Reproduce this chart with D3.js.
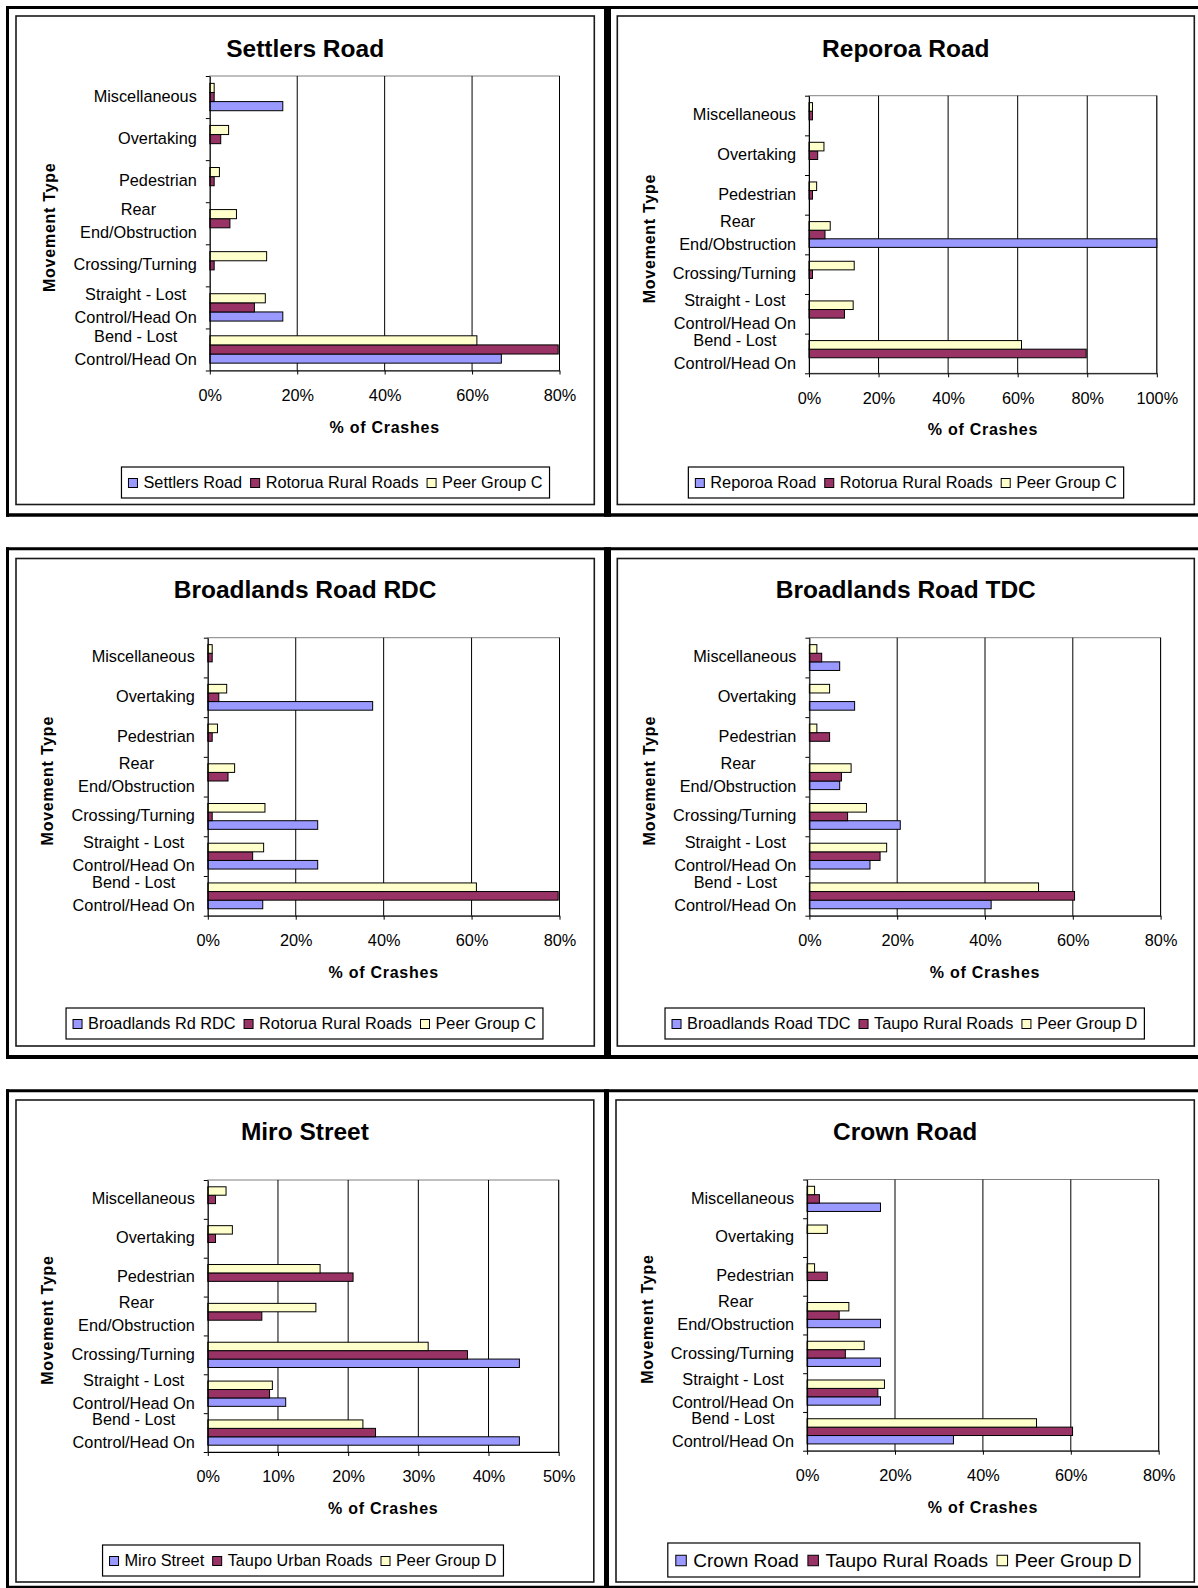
<!DOCTYPE html>
<html><head><meta charset="utf-8">
<script src="https://cdn.jsdelivr.net/npm/d3@7"></script>
<style>
body{margin:0;background:#fff}
svg{display:block;background:#fff}
text{font-family:"Liberation Sans",Arial,Helvetica,sans-serif;fill:#000}
</style>
</head><body>
<svg id="c" width="1198" height="1588"></svg>
<script>
// ---------- DATA (values in % of crashes, categories listed top to bottom) ----------
const categories = ["Miscellaneous","Overtaking","Pedestrian","Rear\nEnd/Obstruction","Crossing/Turning","Straight - Lost\nControl/Head On","Bend - Lost\nControl/Head On"];

const settlersRoad      = [16.7, 0, 0, 0, 0, 16.7, 66.7];
const reporoaRoad       = [0, 0, 0, 100, 0, 0, 0];
const broadlandsRdRDC   = [0, 37.5, 0, 0, 25.0, 25.0, 12.5];
const broadlandsRoadTDC = [6.9, 10.3, 0, 6.9, 20.7, 13.8, 41.4];
const miroStreet        = [0, 0, 0, 0, 44.4, 11.1, 44.4];
const crownRoad         = [16.7, 0, 0, 16.7, 16.7, 16.7, 33.3];

const rotoruaRuralRoads = [1.0, 2.5, 1.0, 4.6, 1.0, 10.2, 79.7];
const taupoRuralRoads   = [2.8, 0, 4.6, 7.3, 8.7, 16.1, 60.4];
const taupoUrbanRoads   = [1.1, 1.1, 20.7, 7.7, 37.0, 8.8, 23.9];

const peerGroupC        = [1.0, 4.3, 2.2, 6.1, 13.0, 12.7, 61.1];
const peerGroupDRural   = [1.7, 4.6, 1.7, 9.5, 13.0, 17.6, 52.2];
const peerGroupDUrban   = [2.6, 3.5, 16.0, 15.4, 31.4, 9.2, 22.1];

const ticks80  = [0, 20, 40, 60, 80];
const ticks100 = [0, 20, 40, 60, 80, 100];
const ticks50  = [0, 10, 20, 30, 40, 50];

const titles = ["Settlers Road","Reporoa Road","Broadlands Road RDC","Broadlands Road TDC","Miro Street","Crown Road"];
const legendSettlers   = ["Settlers Road","Rotorua Rural Roads","Peer Group C"];
const legendReporoa    = ["Reporoa Road","Rotorua Rural Roads","Peer Group C"];
const legendBroadRDC   = ["Broadlands Rd RDC","Rotorua Rural Roads","Peer Group C"];
const legendBroadTDC   = ["Broadlands Road TDC","Taupo Rural Roads","Peer Group D"];
const legendMiro       = ["Miro Street","Taupo Urban Roads","Peer Group D"];
const legendCrown      = ["Crown Road","Taupo Rural Roads","Peer Group D"];

const xTitle = "% of Crashes";
const yTitle = "Movement Type";
const colors = ["#9999FF", "#993366", "#FFFFCC"];

// ---------- LAYOUT ----------
const charts = [
  {title:titles[0], series:[settlersRoad, rotoruaRuralRoads, peerGroupC], names:legendSettlers, ticks:ticks80,
   box:[16,16,594.3,504.5], ty:48, x0:209.8, x1:559.5, top:76, bottom:370.5, lcx:335.5, ltop:467, lh:31, lfs:16.3, sw:9},
  {title:titles[1], series:[reporoaRoad, rotoruaRuralRoads, peerGroupC], names:legendReporoa, ticks:ticks100,
   box:[617.3,16,1194.3,504.5], ty:48, x0:809, x1:1156.8, top:95.7, bottom:373.3, lcx:906, ltop:467, lh:31, lfs:16.3, sw:9},
  {title:titles[2], series:[broadlandsRdRDC, rotoruaRuralRoads, peerGroupC], names:legendBroadRDC, ticks:ticks80,
   box:[16,558.5,594.3,1046], ty:589.5, x0:207.8, x1:559.5, top:637.7, bottom:915.7, lcx:304.5, ltop:1008, lh:31, lfs:16.3, sw:9},
  {title:titles[3], series:[broadlandsRoadTDC, taupoRuralRoads, peerGroupDRural], names:legendBroadTDC, ticks:ticks80,
   box:[617.3,558.5,1194.3,1046], ty:589.5, x0:809.4, x1:1160.6, top:637.7, bottom:915.7, lcx:904.7, ltop:1008, lh:31, lfs:16.3, sw:9},
  {title:titles[4], series:[miroStreet, taupoUrbanRoads, peerGroupDUrban], names:legendMiro, ticks:ticks50,
   box:[16,1100,593.8,1582], ty:1131, x0:207.8, x1:558.7, top:1180, bottom:1452, lcx:303, ltop:1545, lh:31, lfs:16.3, sw:9},
  {title:titles[5], series:[crownRoad, taupoRuralRoads, peerGroupDRural], names:legendCrown, ticks:ticks80,
   box:[616,1100,1194.3,1582], ty:1131.5, x0:807.1, x1:1158.7, top:1179.5, bottom:1450.7, lcx:903.8, ltop:1543, lh:34, lfs:19, sw:10.5}
];

const svg = d3.select("#c");
const FONT = '"Liberation Sans", Arial, Helvetica, sans-serif';

// ---------- OUTER FRAMES ----------
const frames = svg.append("g").attr("stroke", "#000").attr("fill", "none");
function hline(y, x1, x2, w){ frames.append("line").attr("x1",x1).attr("x2",x2).attr("y1",y).attr("y2",y).attr("stroke-width",w); }
function vline(x, y1, y2, w){ frames.append("line").attr("x1",x).attr("x2",x).attr("y1",y1).attr("y2",y2).attr("stroke-width",w); }
// row 1
hline(7.5, 6, 1200, 3); hline(515, 6, 1200, 3.4); vline(7.5, 6, 516.7, 3); vline(607.5, 6, 516.7, 7);
// row 2
hline(548.8, 6, 1200, 3); hline(1057, 6, 1200, 4); vline(7.5, 547.3, 1059, 3); vline(607.5, 547.3, 1059, 7);
// row 3
hline(1090.8, 6, 1200, 3); hline(1587, 6, 1200, 2.5); vline(7.5, 1089.3, 1588, 3); vline(606.5, 1089.3, 1588, 5);

// ---------- CHARTS ----------
charts.forEach(p => {
  const g = svg.append("g");
  const [bx1, by1, bx2, by2] = p.box;
  g.append("rect").attr("x", bx1).attr("y", by1).attr("width", bx2 - bx1).attr("height", by2 - by1)
    .attr("fill", "#fff").attr("stroke", "#1a1a1a").attr("stroke-width", 1.6);

  // title
  g.append("text").attr("x", (bx1 + bx2) / 2).attr("y", p.ty).attr("dy", "0.35em")
    .attr("text-anchor", "middle").style("font-weight", "bold").style("font-size", "24.5px").text(p.title);

  const xMax = p.ticks[p.ticks.length - 1];
  const x = d3.scaleLinear().domain([0, xMax]).range([p.x0, p.x1]);
  const y = d3.scaleBand().domain(categories).range([p.top, p.bottom]).paddingInner(0.35).paddingOuter(0.175);
  const sub = d3.scaleBand().domain([2, 1, 0]).range([0, y.bandwidth()]);

  // plot area border
  g.append("rect").attr("x", p.x0).attr("y", p.top).attr("width", p.x1 - p.x0).attr("height", p.bottom - p.top)
    .attr("fill", "#fff").attr("stroke", "#808080").attr("stroke-width", 1);

  // gridlines
  g.append("g").selectAll("line").data(p.ticks.filter(t => t > 0)).join("line")
    .attr("x1", d => x(d)).attr("x2", d => x(d)).attr("y1", p.top).attr("y2", p.bottom)
    .attr("stroke", "#000").attr("stroke-width", 1);

  // bars
  p.series.forEach((vals, si) => {
    g.append("g").selectAll("rect")
      .data(categories.map((c, i) => ({c, v: vals[i]})).filter(d => d.v > 0))
      .join("rect")
      .attr("x", x(0)).attr("y", d => y(d.c) + sub(si))
      .attr("width", d => x(d.v) - x(0)).attr("height", sub.bandwidth())
      .attr("fill", colors[si]).attr("stroke", "#000").attr("stroke-width", 1);
  });

  // x axis
  const xa = g.append("g").attr("transform", `translate(0,${p.bottom})`)
    .call(d3.axisBottom(x).tickValues(p.ticks).tickFormat(d => d + "%").tickSize(4).tickSizeOuter(0));
  xa.attr("font-family", FONT).attr("font-size", 16.3);
  xa.selectAll("path,line").attr("stroke", "#000");
  xa.selectAll("text").attr("y", 24.5).attr("dy", "0.35em").attr("fill", "#000");

  // y axis (ticks on category boundaries)
  const yb = d3.scaleLinear().domain([0, categories.length]).range([p.top, p.bottom]);
  const ya = g.append("g").attr("transform", `translate(${p.x0},0)`)
    .call(d3.axisLeft(yb).tickValues(d3.range(categories.length + 1)).tickFormat("").tickSize(4).tickSizeOuter(0));
  ya.selectAll("path,line").attr("stroke", "#000");

  // category labels
  const rightEdge = p.x0 - 13;
  categories.forEach(c => {
    const lines = c.split("\n");
    const cy = y(c) + y.bandwidth() / 2;
    const texts = lines.map(l => g.append("text").style("font-size", "16.3px").text(l));
    const w = d3.max(texts, t => t.node().getComputedTextLength());
    const lh = 23;
    const y0 = lines.length === 1 ? cy - 1 : cy - 2 - lh * (lines.length - 1) / 2;
    texts.forEach((t, i) => t.attr("x", rightEdge - w / 2).attr("y", y0 + i * lh)
      .attr("dy", "0.35em").attr("text-anchor", "middle"));
  });

  // axis titles
  g.append("text").attr("x", (p.x0 + p.x1) / 2).attr("y", p.bottom + 56.5).attr("dy", "0.35em")
    .attr("text-anchor", "middle").style("font-weight", "bold").style("font-size", "16px")
    .style("letter-spacing", "0.75px").text(xTitle);
  const ytx = p.x0 - 160, yty = (p.top + p.bottom) / 2 + 4;
  g.append("text").attr("transform", `translate(${ytx},${yty}) rotate(-90)`).attr("dy", "0.35em")
    .attr("text-anchor", "middle").style("font-weight", "bold").style("font-size", "16px")
    .style("letter-spacing", "0.75px").text(yTitle);

  // legend
  const lg = g.append("g");
  const pad = p.lfs > 17 ? 8 : 7, gap = p.lfs > 17 ? 7 : 6, ig = p.lfs > 17 ? 9 : 8.5;
  const lbox = lg.append("rect");
  const items = p.names.map(n => lg.append("text").style("font-size", p.lfs + "px").text(n));
  const widths = items.map(t => t.node().getComputedTextLength());
  const total = 2 * pad + d3.sum(widths) + items.length * (p.sw + gap) + (items.length - 1) * ig;
  const left = p.lcx - total / 2;
  const cyL = p.ltop + p.lh / 2;
  lbox.attr("x", left).attr("y", p.ltop).attr("width", total).attr("height", p.lh)
    .attr("fill", "#fff").attr("stroke", "#000").attr("stroke-width", 1.2);
  let cx = left + pad;
  items.forEach((t, i) => {
    lg.append("rect").attr("x", cx).attr("y", cyL - p.sw / 2 + 0.5).attr("width", p.sw).attr("height", p.sw)
      .attr("fill", colors[i]).attr("stroke", "#000").attr("stroke-width", 1);
    t.attr("x", cx + p.sw + gap).attr("y", cyL).attr("dy", "0.35em");
    cx += p.sw + gap + widths[i] + ig;
  });
});
</script>
</body></html>
